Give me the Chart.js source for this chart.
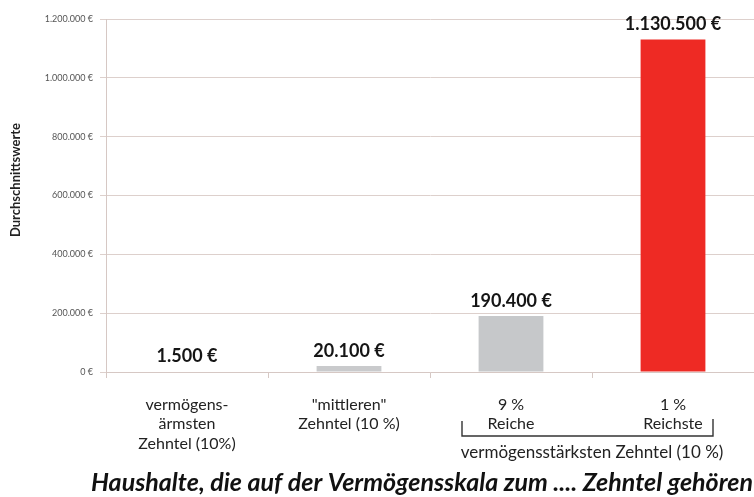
<!DOCTYPE html>
<html>
<head>
<meta charset="utf-8">
<script src="https://cdn.jsdelivr.net/npm/chart.js@4.4.1/dist/chart.umd.min.js"></script>
<style>
  html, body { margin: 0; padding: 0; background: #fff; }
  #wrap { width: 754px; height: 497px; }
</style>
</head>
<body>
<div id="wrap"><canvas id="vermoegenChart" width="754" height="497"></canvas></div>
<script>
// Daten
const categories = [
    ['vermögens-', 'ärmsten', 'Zehntel (10%)'],
    ['"mittleren"', 'Zehntel (10 %)'],
    ['9 %', 'Reiche'],
    ['1 %', 'Reichste']
];
const averages = [1500, 20100, 190400, 1130500];
const barColors = ['#c9cacc', '#c9cacc', '#c6c8ca', '#ee2a24'];
const yTicks = [0, 200000, 400000, 600000, 800000, 1000000, 1200000];

const yTitle = 'Durchschnittswerte';
const groupLabel = 'vermögensstärksten Zehntel (10 %)';
const mainTitle = 'Haushalte, die auf der Vermögensskala zum .... Zehntel gehören';

const FONT = 'Lato, "Open Sans", sans-serif';
const euro = v => v.toLocaleString('de-DE') + ' €';

// Werte, Klammer und Titel zeichnen
const extras = {
    id: 'extras',
    afterDatasetsDraw(chart) {
        const ctx = chart.ctx;
        const meta = chart.getDatasetMeta(0);
        const x = chart.scales.x;
        const area = chart.chartArea;
        ctx.save();

        ctx.fillStyle = '#151515';
        ctx.font = 'bold 18px ' + FONT;
        ctx.textAlign = 'center';
        ctx.textBaseline = 'bottom';
        meta.data.forEach((bar, i) => {
            ctx.fillText(euro(averages[i]), bar.x, bar.y - 6);
        });

        // Klammer unter den oberen 10 %
        const left = x.getPixelForValue(2) - 49;
        const right = x.getPixelForValue(3) + 40;
        ctx.strokeStyle = '#333';
        ctx.lineWidth = 1.4;
        ctx.beginPath();
        ctx.moveTo(left, 421);
        ctx.lineTo(left, 436);
        ctx.lineTo(right, 436);
        ctx.lineTo(right, 419);
        ctx.stroke();

        ctx.fillStyle = '#222';
        ctx.font = '17px ' + FONT;
        ctx.textBaseline = 'middle';
        const mid = (x.getPixelForValue(2) + x.getPixelForValue(3)) / 2;
        ctx.fillText(groupLabel, mid, 453);

        ctx.fillStyle = '#111';
        ctx.font = 'italic bold 25px ' + FONT;
        ctx.fillText(mainTitle, (area.left + area.right) / 2 - 8, 483);

        ctx.translate(16, 180);
        ctx.rotate(-Math.PI / 2);
        ctx.fillStyle = '#222';
        ctx.font = 'bold 13px ' + FONT;
        ctx.fillText(yTitle, 0, 0);
        ctx.restore();
    }
};

const ctx = document.getElementById('vermoegenChart').getContext('2d');
new Chart(ctx, {
    type: 'bar',
    data: {
        labels: categories,
        datasets: [{
            data: averages,
            backgroundColor: barColors,
            barPercentage: 0.4,
            categoryPercentage: 1.0
        }]
    },
    options: {
        responsive: false,
        animation: false,
        layout: { padding: { top: 19, right: 0, bottom: 45, left: 0 } },
        plugins: {
            legend: { display: false },
            tooltip: { enabled: false }
        },
        scales: {
            x: {
                afterFit: s => { s.height = 80; },
                grid: { drawOnChartArea: false, drawTicks: true, tickLength: 6, color: '#d6c8c4' },
                border: { color: '#d6c8c4' },
                ticks: {
                    color: '#222',
                    padding: 17,
                    maxRotation: 0,
                    font: { family: FONT, size: 16, lineHeight: 1.22 }
                }
            },
            y: {
                min: 0,
                max: 1200000,
                afterFit: s => { s.width = 106; },
                afterBuildTicks: s => { s.ticks = yTicks.map(v => ({ value: v })); },
                grid: { color: '#ddd0cc', tickLength: 6 },
                border: { color: '#d6c8c4' },
                ticks: {
                    color: '#555',
                    padding: 7,
                    font: { family: FONT, size: 9 },
                    callback: v => euro(v)
                }
            }
        }
    },
    plugins: [extras]
});
</script>
</body>
</html>
